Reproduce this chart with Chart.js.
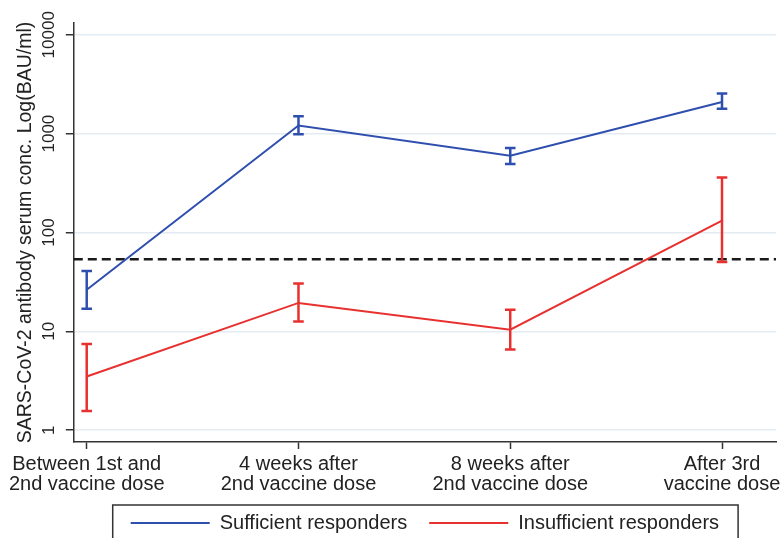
<!DOCTYPE html>
<html>
<head>
<meta charset="utf-8">
<script src="https://cdn.jsdelivr.net/npm/chart.js@4.4.1/dist/chart.umd.min.js"></script>
<style>
  html, body { margin: 0; padding: 0; background: #fff; overflow: hidden; }
  #wrap { position: relative; width: 782px; height: 600px; }
</style>
</head>
<body>
<div id="wrap"><canvas id="chart"></canvas></div>
<script>
// Time points on the x axis (two-line labels)
const timepoints = [
  ['Between 1st and', '2nd vaccine dose'],
  ['4 weeks after', '2nd vaccine dose'],
  ['8 weeks after', '2nd vaccine dose'],
  ['After 3rd', 'vaccine dose']
];

// Geometric means and 95% CI, BAU/ml
const sufficientMean = [26.4, 1208, 598, 2086];
const sufficientLow  = [16.9, 986, 493, 1787];
const sufficientHigh = [40.8, 1503, 717, 2540];

const insufficientMean = [3.49, 19.4, 10.4, 131.5];
const insufficientLow  = [1.56, 12.6, 6.56, 50.4];
const insufficientHigh = [7.45, 30.4, 16.5, 360];

// Cut-off for sufficient response
const threshold = 53.5;

// y axis ticks
const yTicks = [1, 10, 100, 1000, 10000];

// axis ranges
const X_MIN = -0.061, X_MAX = 3.255;
const Y_MIN = 0.76, Y_MAX = 13150;

const BLUE = '#2f4fae';
const RED = '#e8302e';
const CAP = 0.025; // half width of the error bar caps (x units)

Chart.defaults.font.family = "'Liberation Sans', Arial, sans-serif";
Chart.defaults.color = '#222';

function lineData(values) {
    return values.map((v, i) => ({ x: i, y: v }));
}

// vertical bar + two caps per point, separated by gaps
function errorData(low, high) {
    const pts = [];
    low.forEach((lo, i) => {
        const hi = high[i];
        pts.push({ x: i, y: lo }, { x: i, y: hi }, { x: i, y: null });
        pts.push({ x: i - CAP, y: hi }, { x: i + CAP, y: hi }, { x: i, y: null });
        pts.push({ x: i - CAP, y: lo }, { x: i + CAP, y: lo }, { x: i, y: null });
    });
    return pts;
}

// frame around the legend, like the original figure
const legendFrame = {
    id: 'legendFrame',
    afterDraw(chart) {
        const lg = chart.legend;
        if (!lg || !lg.legendHitBoxes || !lg.legendHitBoxes.length) return;
        const hb = lg.legendHitBoxes;
        const first = hb[0], last = hb[hb.length - 1];
        const cy = first.top + first.height / 2;
        const left = first.left - 18;
        const right = last.left + last.width + 19;
        const ctx = chart.ctx;
        ctx.save();
        ctx.strokeStyle = '#333';
        ctx.lineWidth = 1.5;
        ctx.strokeRect(left, cy - 18, right - left, 80);
        ctx.restore();
    }
};

const ctx = document.getElementById('chart').getContext('2d');
new Chart(ctx, {
    type: 'line',
    data: {
        datasets: [
            {
                label: 'Sufficient responders',
                data: lineData(sufficientMean),
                borderColor: BLUE,
                backgroundColor: BLUE,
                borderWidth: 2,
                pointRadius: 0,
                tension: 0
            },
            {
                label: 'Insufficient responders',
                data: lineData(insufficientMean),
                borderColor: RED,
                backgroundColor: RED,
                borderWidth: 2,
                pointRadius: 0,
                tension: 0
            },
            {
                label: 'sufficient CI',
                data: errorData(sufficientLow, sufficientHigh),
                borderColor: BLUE,
                borderWidth: 2.5,
                pointRadius: 0,
                spanGaps: false
            },
            {
                label: 'insufficient CI',
                data: errorData(insufficientLow, insufficientHigh),
                borderColor: RED,
                borderWidth: 2.5,
                pointRadius: 0,
                spanGaps: false
            },
            {
                label: 'threshold',
                data: [{ x: X_MIN, y: threshold }, { x: X_MAX, y: threshold }],
                borderColor: '#1a1a1a',
                borderWidth: 2.5,
                borderDash: [9, 5],
                pointRadius: 0
            }
        ]
    },
    options: {
        responsive: true,
        maintainAspectRatio: false,
        animation: false,
        layout: {
            padding: { top: 23, right: 6, bottom: 57, left: 0 }
        },
        plugins: {
            tooltip: { enabled: false },
            legend: {
                position: 'bottom',
                fullSize: false,
                labels: {
                    filter: item => item.datasetIndex < 2,
                    usePointStyle: true,
                    pointStyle: 'line',
                    pointStyleWidth: 79,
                    padding: 22,
                    font: { size: 20 },
                    color: '#222'
                }
            }
        },
        scales: {
            x: {
                type: 'linear',
                min: X_MIN,
                max: X_MAX,
                afterBuildTicks: s => { s.ticks = timepoints.map((_, i) => ({ value: i })); },
                afterFit: s => { s.paddingRight = 0; s.paddingLeft = 0; s.height -= 8; },
                ticks: {
                    callback: (v, i) => timepoints[i],
                    autoSkip: false,
                    maxRotation: 0,
                    padding: 5,
                    font: { size: 20, lineHeight: 1 },
                    color: '#222'
                },
                grid: {
                    drawOnChartArea: false,
                    tickLength: 7,
                    tickColor: '#333',
                    tickWidth: 1.5
                },
                border: { color: '#333', width: 1.5 }
            },
            y: {
                type: 'logarithmic',
                min: Y_MIN,
                max: Y_MAX,
                afterBuildTicks: s => { s.ticks = yTicks.map(v => ({ value: v })); },
                ticks: {
                    callback: v => String(v),
                    minRotation: 90,
                    maxRotation: 90,
                    crossAlign: 'center',
                    padding: -7,
                    font: { size: 17 },
                    color: '#222'
                },
                grid: {
                    color: '#e3ecf2',
                    lineWidth: 1.5,
                    tickLength: 8,
                    tickColor: '#333',
                    tickWidth: 1.5
                },
                border: { color: '#333', width: 1.5 },
                title: {
                    display: true,
                    text: 'SARS-CoV-2 antibody serum conc. Log(BAU/ml)',
                    font: { size: 19.5 },
                    color: '#222',
                    padding: { top: 14, bottom: 22 }
                }
            }
        }
    },
    plugins: [legendFrame]
});
</script>
</body>
</html>
